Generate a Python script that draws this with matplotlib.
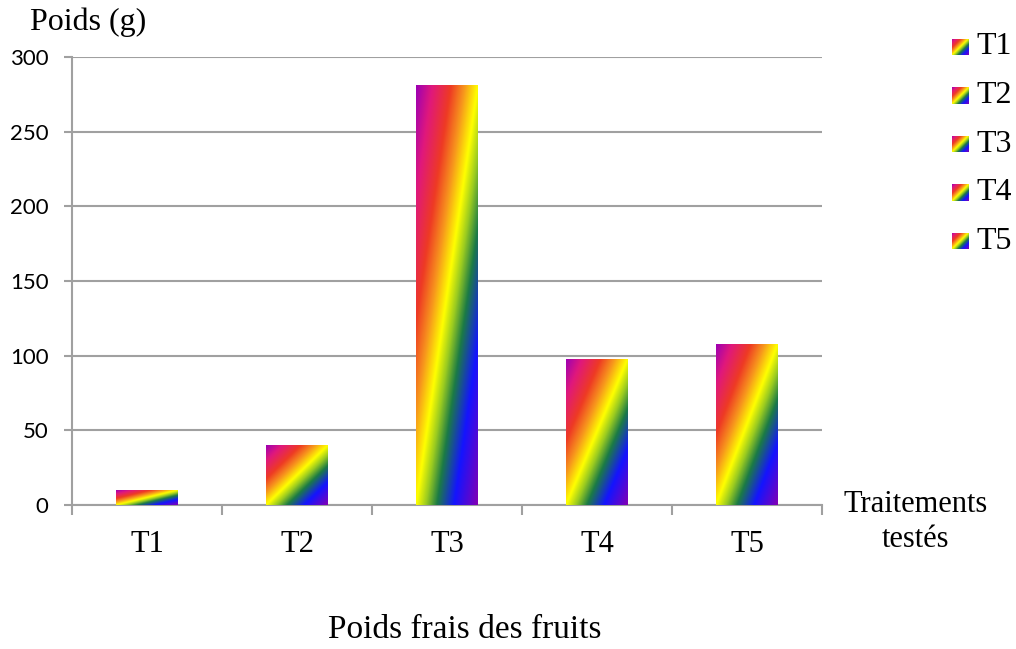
import numpy as np
import matplotlib
matplotlib.use("Agg")
import matplotlib.pyplot as plt
from matplotlib.colors import LinearSegmentedColormap

# data
categories = ["T1", "T2", "T3", "T4", "T5"]
poids = [10, 40, 281, 98, 108]

# rainbow gradient (Excel-style preset)
rainbow = LinearSegmentedColormap.from_list("rainbow_xl", [
    (0.00, "#9c00b4"),
    (0.13, "#e0187c"),
    (0.28, "#ee3a24"),
    (0.39, "#f7941d"),
    (0.50, "#ffff00"),
    (0.58, "#9ccc20"),
    (0.67, "#1b7b45"),
    (0.81, "#1414ff"),
    (1.00, "#8200b4"),
])
n = 200
u, v = np.meshgrid(np.linspace(0, 1, n), np.linspace(0, 1, n))
grad = rainbow((u + v) / 2)

serif = "Liberation Serif"
sans = "Lato"
grey = "#a0a0a0"

fig = plt.figure(figsize=(10.16, 6.49), dpi=100)
ax = fig.add_axes([72 / 1016, 1 - 505 / 649, 750 / 1016, 448 / 649])

x = np.arange(len(categories))
width = 0.41
bars = ax.bar(x, poids, width=width, color="none", zorder=3)
for b in bars:
    x0, y0 = b.get_x(), b.get_y()
    im = ax.imshow(grad, extent=(x0, x0 + b.get_width(), y0, y0 + b.get_height()),
                   origin="upper", aspect="auto", zorder=3, interpolation="bilinear")
    im.set_clip_path(b)

ax.set_xlim(-0.5, len(categories) - 0.5)
ax.set_ylim(0, 300)
ax.set_yticks(range(0, 301, 50))
ax.yaxis.grid(True, color=grey, lw=1.5, zorder=0)
ax.set_axisbelow(True)

ax.set_xticks(x)
ax.set_xticklabels(categories, fontfamily=serif, fontsize=22)
ax.set_xticks(np.arange(-0.5, len(categories), 1), minor=True)
ax.tick_params(axis="x", which="major", length=0, pad=18)
ax.tick_params(axis="x", which="minor", length=7, width=1.5, color=grey, direction="out")
ax.tick_params(axis="y", length=6, width=1.5, color=grey, direction="out", pad=11)
for lab in ax.get_yticklabels():
    lab.set_fontfamily(sans)
    lab.set_fontsize(16)

for s in ["top", "right"]:
    ax.spines[s].set_visible(False)
for s in ["left", "bottom"]:
    ax.spines[s].set_color(grey)
    ax.spines[s].set_linewidth(1.5)

fig.text(30 / 1016, 1 - 22 / 649, "Poids (g)", fontfamily=serif, fontsize=23,
         ha="left", va="center")
fig.text(916 / 1016, 1 - 522 / 649, "Traitements\ntestés", fontfamily=serif, fontsize=22,
         ha="center", va="center", linespacing=1.3)
fig.text(465 / 1016, 1 - 630 / 649, "Poids frais des fruits", fontfamily=serif,
         fontsize=24, ha="center", va="center")

# legend
for i, cat in enumerate(categories):
    yc = 47 + i * 48.5
    lax = fig.add_axes([952 / 1016, 1 - (yc + 8.5) / 649, 17 / 1016, 17 / 649])
    lax.imshow(grad, origin="upper", aspect="auto", extent=(0, 1, 0, 1))
    lax.set_axis_off()
    fig.text(976 / 1016, 1 - yc / 649, cat, fontfamily=serif, fontsize=23,
             ha="left", va="center")

fig.savefig("out.png", dpi=100)
